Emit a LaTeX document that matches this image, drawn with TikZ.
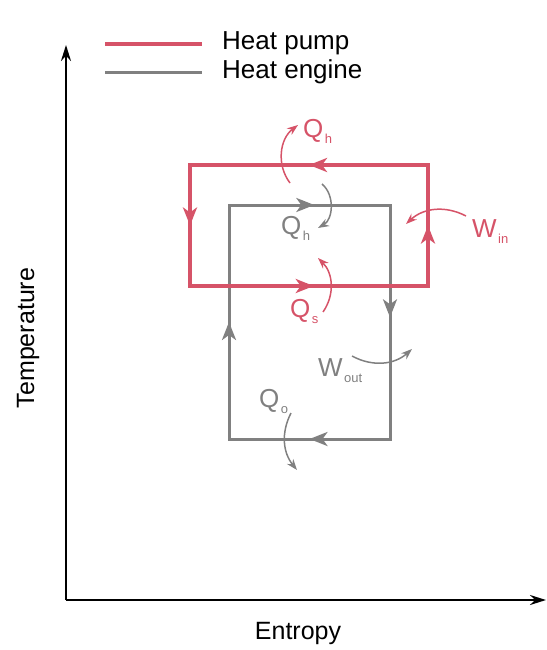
\documentclass[tikz,border=0pt]{standalone}
\usepackage{fontspec}
\setmainfont{Liberation Sans}
\usetikzlibrary{arrows.meta, positioning, calc}

\definecolor{pumpred}{RGB}{214,83,104}
\definecolor{enginegray}{RGB}{128,128,128}
\newcommand{\lowidx}[1]{\hspace{1.5pt}\raisebox{-6pt}{\fontsize{13}{13}\selectfont #1}}

\begin{document}
\begin{tikzpicture}[
        x=1pt, y=-1pt,
        every node/.style={inner sep=0pt, font=\fontsize{26}{30}\selectfont},
        axis/.style={-{Stealth[length=16pt, width=10pt]}, line width=2.2pt},
        flow/.style={-{Stealth[length=11pt, width=8pt]}, line width=1.5pt}
    ]

    \tikzset{
    pump/.style={pumpred, line width=4pt},
    engine/.style={enginegray, line width=3pt},
    halfway/.style={-{Stealth[length=18pt, width=14pt, inset=5pt]}}
}

    \useasboundingbox (0,0) rectangle (546,650);

    % axes
    \coordinate (O) at (66,600);
    \coordinate (Ttop) at (66,45);
    \coordinate (Sright) at (546,600);
    \draw[axis] (O) -- (Ttop);
    \draw[axis] (O) -- (Sright);
    \node[rotate=90, font=\fontsize{25}{30}\selectfont] (temp) at (28,338) {Temperature};
    \node[font=\fontsize{25}{30}\selectfont] (entropy) at (298,633) {Entropy};

    % legend
    \coordinate (pumpA) at (105,44);
    \coordinate (pumpB) at (202,44);
    \coordinate (engA) at (105,73);
    \coordinate (engB) at (202,73);
    \draw[pump] (pumpA) -- (pumpB);
    \draw[engine] (engA) -- (engB);
    \node[anchor=base west] (pumptext) at (222,50) {Heat pump};
    \node[anchor=base west] (engtext) at (222,79) {Heat engine};

    % heat engine cycle
    \coordinate (e1) at (229,205);
    \coordinate (e2) at (390,205);
    \coordinate (e3) at (390,439);
    \coordinate (e4) at (229,439);
    \draw[engine] (e1) -- (e2) -- (e3) -- (e4) -- cycle;
    \draw[engine, halfway] (e1) -- ($(e1)!0.53!(e2)$);
    \draw[engine, halfway] (e2) -- ($(e2)!0.48!(e3)$);
    \draw[engine, halfway] (e3) -- ($(e3)!0.5!(e4)$);
    \draw[engine, halfway] (e4) -- ($(e4)!0.5!(e1)$);

    % heat pump cycle
    \coordinate (p1) at (428,165);
    \coordinate (p2) at (190,165);
    \coordinate (p3) at (190,286);
    \coordinate (p4) at (428,286);
    \draw[pump] (p1) -- (p2) -- (p3) -- (p4) -- cycle;
    \draw[pump, halfway] (p1) -- ($(p1)!0.5!(p2)$);
    \draw[pump, halfway] (p2) -- ($(p2)!0.5!(p3)$);
    \draw[pump, halfway] (p3) -- ($(p3)!0.52!(p4)$);
    \draw[pump, halfway] (p4) -- ($(p4)!0.5!(p1)$);

    % labels
    \node[anchor=base west, text=pumpred] (qhpump) at (303,137) {Q\lowidx{h}};
    \node[anchor=base west, text=enginegray] (qheng) at (281,234) {Q\lowidx{h}};
    \node[anchor=base west, text=pumpred] (qs) at (290,317) {Q\lowidx{s}};
    \node[anchor=base west, text=pumpred] (win) at (472,237) {W\lowidx{in}};
    \node[anchor=base west, text=enginegray] (wout) at (318,376) {W\lowidx{out}};
    \node[anchor=base west, text=enginegray] (qo) at (259,407) {Q\lowidx{o}};

    % heat and work flows
    \coordinate (qhpumpA) at (290,183);
    \coordinate (qhpumpB) at (298,125);
    \coordinate (qhengA) at (322,184);
    \coordinate (qhengB) at (318,228);
    \coordinate (qsA) at (323,312);
    \coordinate (qsB) at (318,258);
    \coordinate (winA) at (466,216);
    \coordinate (winB) at (406,224);
    \coordinate (woutA) at (352,356);
    \coordinate (woutB) at (412,349);
    \coordinate (qoA) at (291,413);
    \coordinate (qoB) at (297,470);

    \draw[flow, pumpred] (qhpumpA) to[bend left=45] (qhpumpB);
    \draw[flow, enginegray] (qhengA) to[bend left=55] (qhengB);
    \draw[flow, pumpred] (qsA) to[bend right=40] (qsB);
    \draw[flow, pumpred] (winA) to[bend right=35] (winB);
    \draw[flow, enginegray] (woutA) to[bend right=35] (woutB);
    \draw[flow, enginegray] (qoA) to[bend right=33] (qoB);
\end{tikzpicture}
\end{document}
